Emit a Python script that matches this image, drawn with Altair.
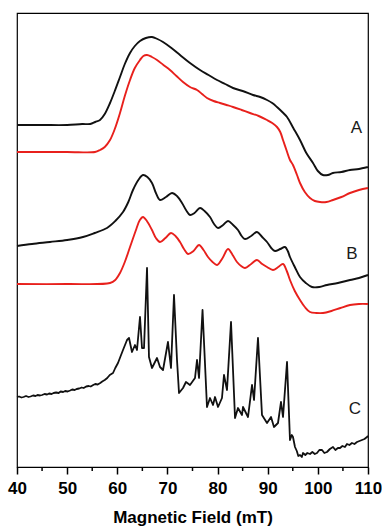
import altair as alt
import pandas as pd

# ---- data (x: magnetic field in mT, y: intensity, arbitrary units) ----
a_black_x = [40, 45, 50, 53, 54.6, 55.6, 56.55, 57.5, 58.55, 59.5, 60.54, 61.5, 62.54, 63.5, 64.53, 65.7, 66.92, 68,
             69.12, 70.8, 72.51, 74.5, 76.5, 78.2, 79.89, 81.5, 83.08, 85, 87.07, 88.5, 89.86, 90.9, 91.85, 92.9,
             93.85, 95.1, 96.44, 97.7, 99.03, 100.0, 101.0, 102.0, 103.0, 104.7, 106.4, 108.2, 110]
a_black_y = [342, 342, 342, 343, 343, 345, 347, 353, 364, 376, 390, 403, 414, 421, 426, 429, 430, 428,
             425, 419, 412, 404, 397, 392, 387, 383, 379, 376, 372, 370, 367, 364, 360, 355,
             350, 339, 327, 314, 304, 296, 292, 292, 294, 295, 297, 298, 300]

a_red_x = [40, 50, 55.56, 56.55, 57.5, 58.55, 59.5, 60.54, 61.5, 62.54, 63.5, 64.53, 65.2, 65.93, 66.9, 67.92,
           69.2, 70.51, 71.8, 73.11, 74.5, 75.9, 76.9, 77.89, 79.2, 80.48, 81.8, 83.08, 84.8, 86.47, 88.2, 89.86,
           90.9, 91.85, 92.5, 93.05, 93.8, 94.44, 95.04, 95.84, 96.44, 97.4, 98.43, 99.4, 100.43, 101.7, 103.02,
           104.7, 106.41, 108.2, 110]
a_red_y = [315, 315, 315, 317, 320, 327, 338, 354, 371, 387, 399, 407, 411, 412, 410, 407,
           402, 397, 391, 385, 380, 377, 373, 369, 366, 364, 362, 360, 357, 354, 351, 347,
           344, 340, 335, 327, 316, 307, 302, 292, 284, 275, 269, 266, 265, 265, 267,
           270, 274, 277, 279]

b_black_x = [40, 43, 46.58, 50, 53.16, 55.5, 57.95, 59.6, 61.14, 62.2, 63.13, 64.2, 65.13, 66.0, 66.92, 67.7,
             68.52, 69.7, 70.91, 71.9, 72.91, 73.7, 74.5, 75.4, 76.5, 77.4, 78.49, 79.3, 80.09, 81.1, 82.08,
             83.1, 84.07, 84.8, 85.47, 86.7, 87.86, 88.9, 89.86, 90.7, 91.45, 92.5, 93.45, 94.0, 94.44, 95.4,
             96.44, 97.6, 98.83, 100.3, 101.82, 104, 106.41, 108.2, 110]
b_black_y = [221, 223, 225, 227, 230, 234, 239, 246, 255, 265, 277, 287, 292, 290, 284, 274,
             267, 270, 274, 271, 264, 257, 252, 254, 259, 256, 250, 243, 239, 242, 246,
             242, 237, 231, 228, 231, 235, 230, 225, 219, 216, 218, 220, 216, 210, 200,
             190, 184, 180, 180, 182, 184, 187, 189, 192]

b_red_x = [40, 50, 58.55, 59.6, 60.54, 61.5, 62.54, 63.8, 64.5, 65.13, 65.9, 66.92, 67.7, 68.52, 69.6, 70.71,
           71.6, 72.51, 73.3, 74.1, 75.2, 76.3, 77.2, 78.09, 79.0, 79.89, 81.0, 82.08, 83.0, 83.87, 84.7, 85.47,
           86.7, 87.86, 88.9, 89.86, 91.05, 92.1, 93.05, 93.8, 94.44, 95.4, 96.44, 97.4, 98.43, 99.7, 101.03,
           102.7, 104.5, 106.41, 108.2, 110]
b_red_y = [183, 183, 184, 187, 194, 205, 220, 238, 247, 250, 246, 237, 229, 225, 229, 234,
           231, 225, 218, 213, 216, 222, 217, 210, 205, 202, 209, 218, 212, 205, 201, 199,
           203, 207, 203, 200, 197, 200, 203, 196, 187, 176, 167, 160, 155, 154, 154,
           156, 159, 162, 163, 163]

c_x = [40.0, 40.4, 40.9, 41.3, 41.8, 42.3, 42.7, 43.2, 43.7, 44.1, 44.6, 45.0, 45.5, 46.0, 46.4, 46.9,
       47.3, 47.8, 48.3, 48.7, 49.2, 49.6, 50.1, 50.6, 51.0, 51.5, 51.9, 52.4, 52.9, 53.3, 53.8, 54.3,
       54.7, 55.2, 55.6, 56.1, 56.6, 57.0, 57.5, 58.0, 58.5, 59.15, 59.6, 60.14, 60.6, 61.14, 61.94, 62.34,
       62.93, 63.53, 63.93, 64.53, 64.93, 65.33, 65.93, 66.32, 66.92, 67.92, 68.52, 69.12, 70.11, 70.71,
       71.31, 71.91, 72.31, 73.11, 73.7, 74.5, 75.5, 75.9, 76.3, 77.0, 77.89, 78.49, 79.09, 79.49, 80.09,
       80.88, 81.28, 81.88, 82.68, 83.48, 84.07, 84.87, 85.07, 86.07, 86.87, 87.27, 88.06, 88.86, 89.86,
       90.66, 91.25, 92.05, 92.65, 93.05, 93.85, 94.44, 94.8, 95.04, 95.44, 95.8, 96.1, 96.44, 96.8,
       97.04, 97.5, 97.9, 98.43, 98.9, 99.4, 99.83, 100.3, 100.83, 101.3, 101.82, 102.4, 103.02, 103.5,
       104.0, 104.42, 104.9, 105.4, 105.81, 106.3, 106.8, 107.3, 107.81, 108.3, 108.8, 109.3, 109.8, 110.0]
c_y = [70, 70.5, 69.5, 70, 71, 70, 70.5, 71.5, 71, 72, 71.5, 72, 73, 72.5, 73.5, 73,
       74, 74.5, 74, 75.5, 75, 76, 75.5, 76.5, 77.5, 77, 78, 78.5, 79.5, 79, 80.5, 81,
       80.5, 82, 83, 82.5, 84, 85.5, 87, 89, 92, 94, 99, 104, 110, 117, 127, 129,
       115, 122, 117, 150, 119, 119, 199, 110, 99, 109, 100, 97, 125, 99,
       172, 107, 74, 79, 85, 82, 89, 107, 89, 157, 60, 69, 62, 70, 60,
       69, 92, 77, 145, 49, 59, 52, 60, 50, 82, 67, 129, 52, 44,
       50, 40, 44, 65, 50, 105, 27, 32, 30, 20, 16, 11, 12, 10,
       14, 12, 14, 13, 15, 13, 14, 17, 17, 14, 15, 18, 20, 17,
       19, 19, 21, 20, 23, 22, 24, 23, 25, 26, 27, 28, 30, 31]

labels = ["A", "B", "C"]
label_x = [107.7, 106.8, 107.4]
label_y = [339, 213, 58]

major_ticks = [40, 50, 60, 70, 80, 90, 100, 110]
minor_ticks = [45, 55, 65, 75, 85, 95, 105]

traces = [
    ("A black", a_black_x, a_black_y),
    ("A red", a_red_x, a_red_y),
    ("B black", b_black_x, b_black_y),
    ("B red", b_red_x, b_red_y),
]
rows = []
for name, xs, ys in traces:
    for i, (xv, yv) in enumerate(zip(xs, ys)):
        rows.append({"trace": name, "field": xv, "signal": yv, "order": i})
smooth_df = pd.DataFrame(rows)
c_df = pd.DataFrame({"field": c_x, "signal": c_y, "order": list(range(len(c_x)))})
lab_df = pd.DataFrame({"label": labels, "field": label_x, "signal": label_y})
minor_df = pd.DataFrame({"field": minor_ticks})

xscale = alt.Scale(domain=[40, 110], nice=False, zero=False)
yscale = alt.Scale(domain=[0, 454], nice=False, zero=False)

xaxis = alt.Axis(
    values=major_ticks, format="d", title="Magnetic Field (mT)", grid=False,
    tickSize=7, tickWidth=1.5, tickColor="black", domainColor="black", domainWidth=1.2,
    labelFont="Liberation Sans", labelFontWeight="bold", labelFontSize=17, labelColor="black",
    labelPadding=6, labelOverlap=False, labelBound=False, labelFlush=False,
    titleFont="Liberation Sans", titleFontWeight="bold", titleFontSize=17, titleColor="black",
    titlePadding=13,
)

smooth = alt.Chart(smooth_df).mark_line(interpolate="catmull-rom", strokeWidth=1.9).encode(
    x=alt.X("field:Q", scale=xscale, axis=xaxis),
    y=alt.Y("signal:Q", scale=yscale, axis=None),
    color=alt.Color("trace:N", scale=alt.Scale(domain=["A black", "A red", "B black", "B red"],
                                               range=["#111111", "#e8201c", "#111111", "#e8201c"]),
                    legend=None),
    order="order:Q",
)

c_line = alt.Chart(c_df).mark_line(strokeWidth=1.8, color="#111111", strokeJoin="round").encode(
    x=alt.X("field:Q", scale=xscale),
    y=alt.Y("signal:Q", scale=yscale),
    order="order:Q",
)

text = alt.Chart(lab_df).mark_text(font="Liberation Sans", fontSize=17, color="#1a1a1a").encode(
    x=alt.X("field:Q", scale=xscale),
    y=alt.Y("signal:Q", scale=yscale),
    text="label:N",
)

minor = alt.Chart(minor_df).mark_rule(color="black", strokeWidth=1.5).encode(
    x=alt.X("field:Q", scale=xscale),
    y=alt.value(454),
    y2=alt.value(458),
)

chart = alt.layer(smooth, c_line, text, minor).properties(
    width=351, height=454,
    autosize=alt.AutoSizeParams(type="none"),
    padding={"left": 17, "top": 13, "right": 14, "bottom": 59},
    background="white",
).configure_view(stroke="black", strokeWidth=1.2)

chart.save("out.html", embed_options={"renderer": "svg", "actions": False})
